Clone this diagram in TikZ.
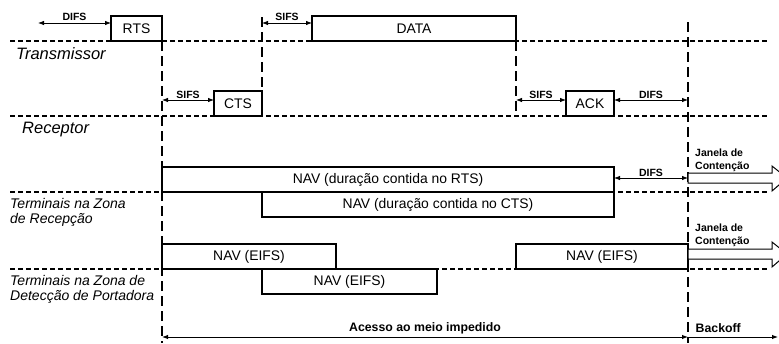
\documentclass[tikz,border=0pt]{standalone}
\usepackage{fontspec}
\setmainfont{Liberation Sans}
\usetikzlibrary{arrows.meta}

\begin{document}
\begin{tikzpicture}[
        x=1pt, y=-1pt,
        >={Latex[length=6pt,width=4.5pt]},
        % boîtes
        frame/.style={draw, line width=1.5pt, inner sep=0pt, outer sep=0pt,
                      minimum height=25pt, anchor=south west,
                      font=\fontsize{13.9}{16}\selectfont},
        lowframe/.style={frame, anchor=north west},
        % lignes
        sep/.style={dash pattern=on 5pt off 3pt, line width=1.3pt},
        tline/.style={dash pattern=on 10pt off 5pt, line width=1.5pt},
        span/.style={<->, line width=0.8pt},
        hollow/.style={draw, line width=1pt, fill=white},
        % textes
        tag/.style={font=\fontsize{10.5}{13}\selectfont\bfseries, inner sep=1.5pt},
        bigtag/.style={font=\fontsize{12.3}{14}\selectfont\bfseries, inner sep=1.5pt},
        station/.style={font=\fontsize{16.5}{19}\selectfont\itshape, anchor=west, inner sep=0pt},
        zone/.style={font=\fontsize{14}{15.5}\selectfont\itshape, anchor=north west,
                     align=left, inner sep=0pt},
    ]
    \useasboundingbox (0,0) rectangle (779,343);
    \clip (0,0) rectangle (779,343);

    %% -- lignes de séparation --
    \draw[sep] (10,41)  -- (767,41);
    \draw[sep] (10,116) -- (767,116);
    \draw[sep] (10,192) -- (767,192);
    \draw[sep] (10,269) -- (767,269);

    %% -- trames --
    \node[frame, minimum width=51pt]     (rts)    at (111,41)  {RTS};
    \node[frame, minimum width=204pt]    (data)   at (312,41)  {DATA};
    \node[frame, minimum width=48pt]     (cts)    at (214,116) {CTS};
    \node[frame, minimum width=48pt]     (ack)    at (566,116) {ACK};
    \node[frame, minimum width=452pt]    (navrts) at (162,192) {NAV (duração contida no RTS)};
    \node[lowframe, minimum width=352pt] (navcts) at (262,192) {NAV (duração contida no CTS)};
    \node[frame, minimum width=174pt]    (eifsa)  at (162,269) {NAV (EIFS)};
    \node[lowframe, minimum width=175pt] (eifsb)  at (262,269) {NAV (EIFS)};
    \node[frame, minimum width=172pt]    (eifsc)  at (516,269) {NAV (EIFS)};

    %% -- stations --
    \node[station] (ltx) at (16,54)  {Transmissor};
    \node[station] (lrx) at (22,130) {Receptor};
    \node[zone]    (lzr) at (10,198) {Terminais na Zona\\de Recepção};
    \node[zone]    (lzd) at (10,275) {Terminais na Zona de\\Detecção de Portadora};

    %% -- repères temporels --
    \coordinate (t1) at (262,17);
    \coordinate (b0) at (162,343);
    \coordinate (b3) at (516,116);
    \coordinate (t4) at (688,22);
    \coordinate (b4) at (688,343);
    \draw[tline] (rts.south east)  -- (b0);
    \draw[tline] (t1)              -- (cts.north east);
    \draw[tline] (data.south east) -- (b3);
    \draw[tline] (t4)              -- (b4);

    %% -- intervalles --
    \coordinate (difs0) at (38,23);
    \coordinate (sifs0) at (262,23);
    \coordinate (sifs1) at (162,100);
    \coordinate (sifs2) at (516,100);
    \coordinate (difs2) at (688,100);
    \coordinate (difs3) at (688,178);
    \draw[span] (difs0) -- (difs0 -| rts.west)  node[tag, midway, above]{DIFS};
    \draw[span] (sifs0) -- (sifs0 -| data.west) node[tag, midway, above]{SIFS};
    \draw[span] (sifs1) -- (sifs1 -| cts.west)  node[tag, midway, above]{SIFS};
    \draw[span] (sifs2) -- (sifs2 -| ack.west)  node[tag, midway, above]{SIFS};
    \draw[span] (difs2 -| ack.east) -- (difs2)  node[tag, midway, above]{DIFS};
    \draw[span] (difs3 -| navrts.east) -- (difs3) node[tag, midway, above]{DIFS};

    %% -- fenêtres de contention --
    \foreach \y/\ty in {178/149, 254/224} {
        \draw[hollow] (688,\y-5) -- (772,\y-5) -- (772,\y-12) -- (787,\y)
            -- (772,\y+13) -- (772,\y+5) -- (688,\y+5) -- cycle;
        \node[tag, anchor=north west, align=left, inner sep=0pt] at (695,\ty) {Janela de\\Contenção};
    }

    %% -- accès au médium --
    \coordinate (acc0) at (162,337);
    \coordinate (acc1) at (688,337);
    \coordinate (bk1)  at (778,337);
    \draw[span, line width=1pt] (acc0) -- (acc1)
        node[bigtag, midway, above, yshift=1pt]{Acesso ao meio impedido};
    \draw[->, line width=1pt] (acc1) -- (bk1);
    \node[bigtag, anchor=south west] (bko) at ([xshift=6pt, yshift=3pt]acc1) {Backoff};

\end{tikzpicture}
\end{document}
